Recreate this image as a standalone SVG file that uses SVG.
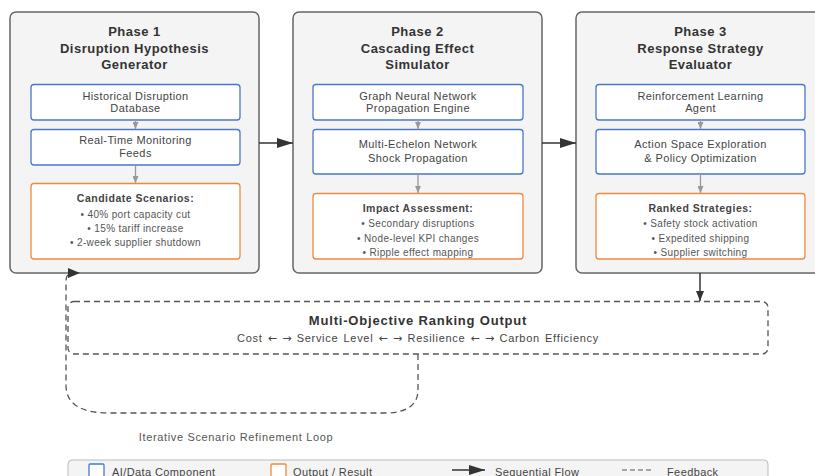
<svg xmlns="http://www.w3.org/2000/svg" width="815" height="476" viewBox="0 0 815 476">
<defs>
<marker id="ah" markerWidth="10" markerHeight="8" refX="10" refY="4" orient="auto" markerUnits="userSpaceOnUse"><path d="M0,0 L10,4 L0,8 Z" fill="#333"/></marker>
<marker id="ahBig" markerWidth="16" markerHeight="10" refX="16" refY="5" orient="auto" markerUnits="userSpaceOnUse"><path d="M0,0 L16,5 L0,10 Z" fill="#333"/></marker>
<marker id="ahs" markerWidth="7" markerHeight="6" refX="7" refY="3" orient="auto" markerUnits="userSpaceOnUse"><path d="M0,0 L7,3 L0,6 Z" fill="#999"/></marker>
<style>
.phase{fill:#f4f4f4;stroke:#666;stroke-width:1.5}
.ai{fill:#fff;stroke:#4a78c8;stroke-width:1.3}
.out{fill:#fff;stroke:#ef8a3c;stroke-width:1.3}
.t{font-family:"Liberation Sans",Arial,sans-serif;text-anchor:middle}
.ph{font-size:13px;font-weight:bold;fill:#333;letter-spacing:0.5px}
.bx{font-size:11px;fill:#444;letter-spacing:0.4px}
.oh{font-size:10.5px;font-weight:bold;fill:#444;letter-spacing:0.5px}
.ob{font-size:10px;fill:#555;letter-spacing:0.35px}
.lg{font-family:"Liberation Sans",Arial,sans-serif;font-size:11px;fill:#444;letter-spacing:0.4px}
.sub{letter-spacing:0.7px;word-spacing:1.5px}
.ar{font-family:"DejaVu Sans",sans-serif;font-size:11px;letter-spacing:0}
.gray{stroke:#999;stroke-width:1.3;fill:none}
.flow{stroke:#333;stroke-width:1.5;fill:none}
.dash{stroke:#555;stroke-width:1.3;fill:none;stroke-dasharray:6,4}
</style>
</defs>

<g id="phase1">
<rect class="phase" x="10" y="12" width="249" height="261" rx="6"/>
<text class="t ph" x="134.5" y="35.5">Phase 1</text>
<text class="t ph" x="134.5" y="53">Disruption Hypothesis</text>
<text class="t ph" x="134.5" y="69">Generator</text>
<rect class="ai" x="31" y="84.5" width="209" height="35.5" rx="3"/>
<text class="t bx" x="135.5" y="99.5">Historical Disruption</text>
<text class="t bx" x="135.5" y="112">Database</text>
<rect class="ai" x="31" y="129.5" width="209" height="35.5" rx="3"/>
<text class="t bx" x="135.5" y="144">Real-Time Monitoring</text>
<text class="t bx" x="135.5" y="157">Feeds</text>
<rect class="out" x="31" y="183.5" width="209" height="75.5" rx="3"/>
<text class="t oh" x="135.5" y="202">Candidate Scenarios:</text>
<text class="t ob" x="135.5" y="217.5">• 40% port capacity cut</text>
<text class="t ob" x="135.5" y="231.5">• 15% tariff increase</text>
<text class="t ob" x="135.5" y="245.5">• 2-week supplier shutdown</text>
<path class="gray" d="M135.5,120 V129" marker-end="url(#ahs)"/>
<path class="gray" d="M135.5,165 V183" marker-end="url(#ahs)"/>
</g>

<g id="phase2">
<rect class="phase" x="293" y="12" width="249" height="261" rx="6"/>
<text class="t ph" x="417.5" y="35.5">Phase 2</text>
<text class="t ph" x="417.5" y="53">Cascading Effect</text>
<text class="t ph" x="417.5" y="69">Simulator</text>
<rect class="ai" x="313" y="84.5" width="210" height="35.5" rx="3"/>
<text class="t bx" x="418" y="99.5">Graph Neural Network</text>
<text class="t bx" x="418" y="112">Propagation Engine</text>
<rect class="ai" x="313" y="129.5" width="210" height="44.5" rx="3"/>
<text class="t bx" x="418" y="147.5">Multi-Echelon Network</text>
<text class="t bx" x="418" y="161.5">Shock Propagation</text>
<rect class="out" x="313" y="193.5" width="210" height="65.5" rx="3"/>
<text class="t oh" x="418" y="212">Impact Assessment:</text>
<text class="t ob" x="418" y="226.5">• Secondary disruptions</text>
<text class="t ob" x="418" y="241.5">• Node-level KPI changes</text>
<text class="t ob" x="418" y="255.5">• Ripple effect mapping</text>
<path class="gray" d="M418,120 V129" marker-end="url(#ahs)"/>
<path class="gray" d="M418,174 V193" marker-end="url(#ahs)"/>
</g>

<g id="phase3">
<rect class="phase" x="576" y="12" width="249" height="261" rx="6"/>
<text class="t ph" x="700.5" y="35.5">Phase 3</text>
<text class="t ph" x="700.5" y="53">Response Strategy</text>
<text class="t ph" x="700.5" y="69">Evaluator</text>
<rect class="ai" x="596" y="84.5" width="209" height="35.5" rx="3"/>
<text class="t bx" x="700.5" y="99.5">Reinforcement Learning</text>
<text class="t bx" x="700.5" y="112">Agent</text>
<rect class="ai" x="596" y="129.5" width="209" height="44.5" rx="3"/>
<text class="t bx" x="700.5" y="147.5">Action Space Exploration</text>
<text class="t bx" x="700.5" y="161.5">&amp; Policy Optimization</text>
<rect class="out" x="596" y="193.5" width="209" height="65.5" rx="3"/>
<text class="t oh" x="700.5" y="212">Ranked Strategies:</text>
<text class="t ob" x="700.5" y="226.5">• Safety stock activation</text>
<text class="t ob" x="700.5" y="241.5">• Expedited shipping</text>
<text class="t ob" x="700.5" y="255.5">• Supplier switching</text>
<path class="gray" d="M700.5,120 V129" marker-end="url(#ahs)"/>
<path class="gray" d="M700.5,174 V193" marker-end="url(#ahs)"/>
</g>

<g id="ranking">
<rect class="dash" x="68" y="301.5" width="700" height="52.5" rx="6"/>
<text class="t ph" x="418" y="325" style="letter-spacing:0.8px">Multi-Objective Ranking Output</text>
<text class="t bx sub" x="418" y="341.5">Cost <tspan class="ar">←</tspan> <tspan class="ar">→</tspan> Service Level <tspan class="ar">←</tspan> <tspan class="ar">→</tspan> Resilience <tspan class="ar">←</tspan> <tspan class="ar">→</tspan> Carbon Efficiency</text>
</g>

<g id="connectors">
<path class="flow" d="M259,143 H293" marker-end="url(#ahBig)"/>
<path class="flow" d="M542,143 H576" marker-end="url(#ahBig)"/>
<path class="flow" d="M700,273 V301" marker-end="url(#ah)"/>
<path class="dash" d="M418,354 V390 C418,406 405,413 385,413 H110 C82,413 66,405 66,385 V281 C66,276 68,273 72,273"/>
<path d="M80,273 L68,268 L68,278 Z" fill="#333"/>
</g>

<text class="t" x="236" y="441" style="font-size:11px;fill:#555;letter-spacing:0.65px">Iterative Scenario Refinement Loop</text>

<g id="legend">
<rect x="68" y="460" width="700" height="30" rx="4" fill="#f4f4f4" stroke="#bbb" stroke-width="1"/>
<rect x="89" y="464" width="15" height="15" rx="1" fill="#fff" stroke="#4a78c8" stroke-width="1.3"/>
<text class="lg" x="112" y="475.5">AI/Data Component</text>
<rect x="271" y="464" width="15" height="15" rx="1" fill="#fff" stroke="#ef8a3c" stroke-width="1.3"/>
<text class="lg" x="293" y="475.5">Output / Result</text>
<path class="flow" d="M452,470 H485" marker-end="url(#ahBig)"/>
<text class="lg" x="495" y="475.5">Sequential Flow</text>
<path d="M622,470 H654" stroke="#555" stroke-width="1.2" stroke-dasharray="5,3"/>
<text class="lg" x="667" y="475.5">Feedback</text>
</g>
</svg>
